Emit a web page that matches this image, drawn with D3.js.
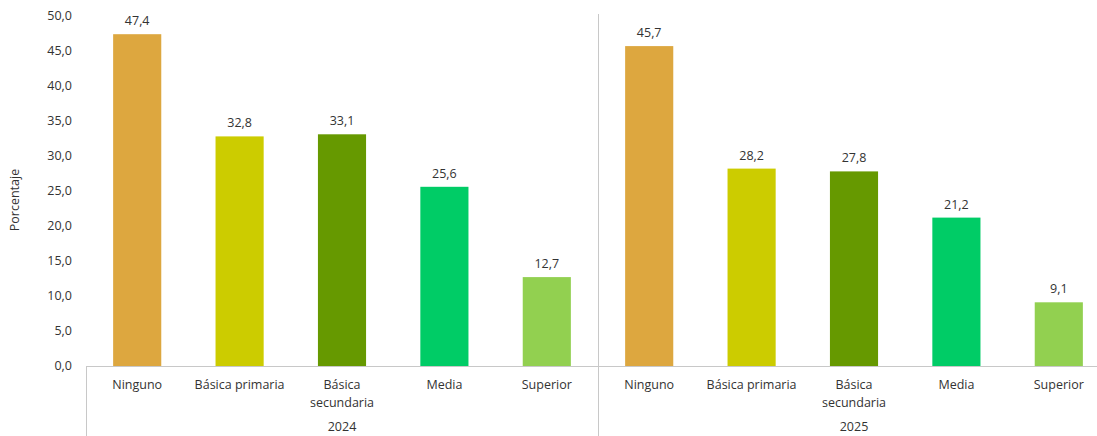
<!DOCTYPE html>
<html><head><meta charset="utf-8">
<script src="https://cdn.jsdelivr.net/npm/d3@7"></script>
<style>body{margin:0;background:#fff;} text{font-family:"Open Sans","Noto Sans",sans-serif;}</style>
</head><body><svg id="c" width="1097" height="436"></svg>
<script>
const years = ["2024", "2025"];
const categories = ["Ninguno", "Básica primaria", "Básica secundaria", "Media", "Superior"];
const categoryLines = [["Ninguno"], ["Básica primaria"], ["Básica", "secundaria"], ["Media"], ["Superior"]];
const values2024 = [47.4, 32.8, 33.1, 25.6, 12.7];
const values2025 = [45.7, 28.2, 27.8, 21.2, 9.1];
const yTicks = [0, 5, 10, 15, 20, 25, 30, 35, 40, 45, 50];
const colors = ["#DDA73F", "#CCCC00", "#669900", "#00CC66", "#92D050"];
const seriesByYear = [values2024, values2025];

(function () {
const svg = d3.select("#c");
const mLeft = 86, mRight = 1110, mTop = 16, mBottom = 366;
const fmt = v => v.toFixed(1).replace(".", ",");
const tc = "#333333";

const x0 = d3.scaleBand().domain(years).range([mLeft, mRight]).padding(0);
const x1 = d3.scaleBand().domain(categories).range([0, x0.bandwidth()]).paddingInner(0.53).paddingOuter(0.265);
const y = d3.scaleLinear().domain([0, 50]).range([mBottom, mTop]);

svg.append("g").selectAll("text").data(yTicks).join("text")
  .attr("x", 72).attr("y", d => y(d)).attr("dy", "0.35em")
  .attr("text-anchor", "end").attr("font-size", 12.5).attr("fill", tc)
  .text(fmt);

svg.append("text").attr("transform", "translate(19,200) rotate(-90)")
  .attr("text-anchor", "middle").attr("font-size", 12.5).attr("fill", tc).text("Porcentaje");

years.forEach((yr, gi) => {
  const g = svg.append("g").attr("transform", `translate(${x0(yr)},0)`);
  const data = categories.map((c, i) => ({c, v: seriesByYear[gi][i], col: colors[i]}));
  g.selectAll("rect").data(data).join("rect")
    .attr("x", d => x1(d.c)).attr("width", x1.bandwidth())
    .attr("y", d => y(d.v)).attr("height", d => y(0) - y(d.v))
    .attr("fill", d => d.col);
  g.selectAll("text.v").data(data).join("text").attr("class", "v")
    .attr("x", d => x1(d.c) + x1.bandwidth() / 2).attr("y", d => y(d.v) - 9)
    .attr("text-anchor", "middle").attr("font-size", 12.5).attr("fill", tc)
    .text(d => fmt(d.v));
  categories.forEach((c, i) => {
    const t = g.append("text").attr("text-anchor", "middle").attr("font-size", 12.5).attr("fill", tc);
    categoryLines[i].forEach((ln, k) => {
      t.append("tspan").attr("x", x1(c) + x1.bandwidth() / 2).attr("y", 389 + k * 18).text(ln);
    });
  });
  g.append("text").attr("x", x0.bandwidth() / 2).attr("y", 431)
    .attr("text-anchor", "middle").attr("font-size", 12.5).attr("fill", tc).text(yr);
});

const lc = "#c8c8c8";
svg.append("line").attr("x1", mLeft).attr("x2", 1097).attr("y1", mBottom + 0.5).attr("y2", mBottom + 0.5).attr("stroke", lc);
svg.append("line").attr("x1", mLeft + 0.5).attr("x2", mLeft + 0.5).attr("y1", mBottom).attr("y2", 436).attr("stroke", lc);
svg.append("line").attr("x1", x0("2025") + 0.5).attr("x2", x0("2025") + 0.5).attr("y1", 14).attr("y2", 436).attr("stroke", lc);
})();
</script></body></html>
